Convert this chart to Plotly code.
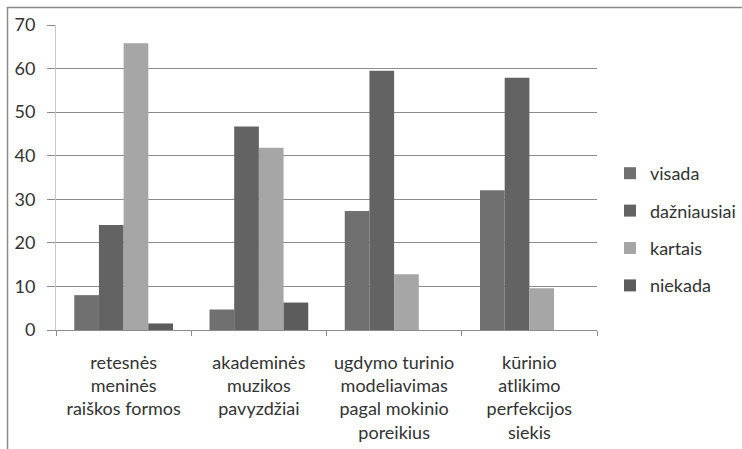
import plotly.graph_objects as go

categories = [
    "retesnės<br>meninės<br>raiškos formos",
    "akademinės<br>muzikos<br>pavyzdžiai",
    "ugdymo turinio<br>modeliavimas<br>pagal mokinio<br>poreikius",
    "kūrinio<br>atlikimo<br>perfekcijos<br>siekis",
]
series_names = ["visada", "dažniausiai", "kartais", "niekada"]
visada = [8.0, 4.7, 27.3, 32.1]
dazniausiai = [24.1, 46.7, 59.5, 57.9]
kartais = [65.8, 41.8, 12.8, 9.6]
niekada = [1.5, 6.3, 0, 0]
y_ticks = [0, 10, 20, 30, 40, 50, 60, 70]

colors = ["#707070", "#636363", "#a6a6a6", "#5c5c5c"]
values = [visada, dazniausiai, kartais, niekada]

FONT = "Lato"
TXT = "#333333"

fig = go.Figure()
for i, (name, vals) in enumerate(zip(series_names, values)):
    fig.add_trace(go.Bar(
        x=categories, y=vals, name=name,
        marker=dict(color=colors[i], line=dict(width=0)),
        legendgroup=name,
    ))

L, R, T, B = 56, 145, 25, 119
W, H = 742, 449
pw, ph = W - L - R, H - T - B

def px(x):
    return (x - L) / pw

def py(y):
    return (H - B - y) / ph

fig.update_layout(
    width=W, height=H,
    margin=dict(l=L, r=R, t=T, b=B, autoexpand=False),
    barmode="group",
    bargap=0.27,
    bargroupgap=0,
    plot_bgcolor="white",
    paper_bgcolor="white",
    font=dict(family=FONT, size=18, color=TXT),
    legend=dict(
        x=px(610), y=py(155), xanchor="left", yanchor="top",
        font=dict(family=FONT, size=18, color=TXT),
        tracegroupgap=11,
        itemwidth=30,
        bgcolor="rgba(0,0,0,0)",
    ),
    xaxis=dict(
        automargin=False,
        showline=True, linecolor="#8c8c8c", linewidth=1,
        ticks="outside", tickson="boundaries", ticklen=5, tickcolor="#8c8c8c",
        showgrid=False,
        ticklabelstandoff=16,
        tickfont=dict(family=FONT, size=18, color=TXT),
    ),
    yaxis=dict(
        automargin=False,
        range=[0, 70], tickvals=y_ticks,
        showline=True, linecolor="#c8c8c8", linewidth=1,
        ticks="outside", ticklen=8, tickcolor="#8c8c8c",
        ticklabelstandoff=8,
        showgrid=True, gridcolor="#8c8c8c", gridwidth=1,
        zeroline=False,
        tickfont=dict(family=FONT, size=18, color=TXT),
    ),
    shapes=[
        dict(type="path", xref="paper", yref="paper",
             path=f"M {px(7.5)} {py(449)} L {px(7.5)} {py(7.5)} L {px(742)} {py(7.5)}",
             line=dict(color="#8a8a8a", width=1.5)),
    ],
)

fig.write_html(
    "out.html",
    config={"displayModeBar": False},
    post_script="document.body.style.margin='0';document.body.style.overflow='hidden';",
)
